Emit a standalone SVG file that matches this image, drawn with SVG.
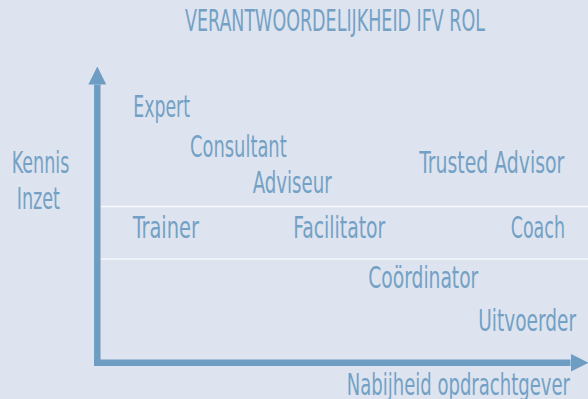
<svg xmlns="http://www.w3.org/2000/svg" width="588" height="399" viewBox="0 0 588 399">
  <defs>
    <style>
      .t { font-family: "DejaVu Sans Condensed", "DejaVu Sans", sans-serif; font-stretch: condensed; font-size: 30px; fill: #73A1C5; }
      .axis { stroke: #6E9DC4; stroke-width: 6.5; fill: none; }
      .grid { stroke: #F5F7FB; stroke-width: 1.5; }
    </style>
    <marker id="arr" viewBox="0 0 18 18" markerWidth="18" markerHeight="18" refX="0" refY="9" orient="auto" markerUnits="userSpaceOnUse">
      <path d="M0,0 L18,9 L0,18 z" fill="#6E9DC4"/>
    </marker>
  </defs>
  <rect width="588" height="399" fill="#DEE4EF"/>
  <g id="grid">
    <line class="grid" x1="97" y1="206.5" x2="588" y2="206.5"/>
    <line class="grid" x1="97" y1="259" x2="588" y2="259"/>
  </g>
  <g id="connectors">
    <line class="axis" x1="97.3" y1="366" x2="97.3" y2="84.5" marker-end="url(#arr)"/>
    <line class="axis" x1="94" y1="362.7" x2="570.5" y2="362.7" marker-end="url(#arr)"/>
  </g>
  <g id="title"><text class="t" x="185" y="30.7" textLength="300" lengthAdjust="spacingAndGlyphs">VERANTWOORDELIJKHEID IFV ROL</text></g>
  <g id="y-label">
    <text class="t" x="11.7" y="172.7" textLength="57.6" lengthAdjust="spacingAndGlyphs">Kennis</text>
    <text class="t" x="16.7" y="209.3" textLength="43.3" lengthAdjust="spacingAndGlyphs">Inzet</text>
  </g>
  <g id="x-label"><text class="t" x="346.7" y="395" textLength="223.3" lengthAdjust="spacingAndGlyphs">Nabijheid opdrachtgever</text></g>
  <g id="expert"><text class="t" x="133.3" y="116.7" textLength="56.7" lengthAdjust="spacingAndGlyphs">Expert</text></g>
  <g id="consultant"><text class="t" x="190" y="157.3" textLength="96.7" lengthAdjust="spacingAndGlyphs">Consultant</text></g>
  <g id="adviseur"><text class="t" x="252.7" y="192.7" textLength="79" lengthAdjust="spacingAndGlyphs">Adviseur</text></g>
  <g id="trusted-advisor"><text class="t" x="419.3" y="173.3" textLength="145" lengthAdjust="spacingAndGlyphs">Trusted Advisor</text></g>
  <g id="trainer"><text class="t" x="132.7" y="238.3" textLength="66.3" lengthAdjust="spacingAndGlyphs">Trainer</text></g>
  <g id="facilitator"><text class="t" x="293.3" y="238.3" textLength="92" lengthAdjust="spacingAndGlyphs">Facilitator</text></g>
  <g id="coach"><text class="t" x="510.7" y="238.3" textLength="54.3" lengthAdjust="spacingAndGlyphs">Coach</text></g>
  <g id="coordinator"><text class="t" x="368.3" y="288.3" textLength="110" lengthAdjust="spacingAndGlyphs">Coördinator</text></g>
  <g id="uitvoerder"><text class="t" x="478.3" y="331" textLength="97.7" lengthAdjust="spacingAndGlyphs">Uitvoerder</text></g>
</svg>
